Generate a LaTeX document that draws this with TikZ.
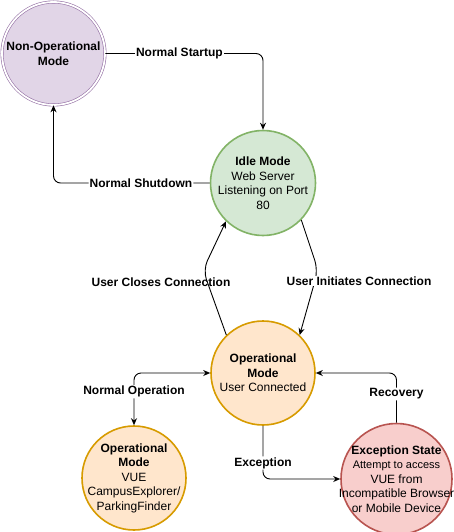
\documentclass[tikz,border=0pt]{standalone}
\usepackage{fontspec}
\setmainfont{Liberation Sans}
\usetikzlibrary{arrows.meta}
\definecolor{purfill}{HTML}{E1D5E7}\definecolor{purline}{HTML}{9673A6}
\definecolor{grnfill}{HTML}{D5E8D4}\definecolor{grnline}{HTML}{82B366}
\definecolor{orgfill}{HTML}{FFE6CC}\definecolor{orgline}{HTML}{D79B00}
\definecolor{redfill}{HTML}{F8CECC}\definecolor{redline}{HTML}{B85450}
\begin{document}
\begin{tikzpicture}[x=1pt,y=-1pt,
  state/.style={circle,line width=1.6pt,inner sep=0pt},
  txt/.style={align=center,inner sep=0pt,font=\fontsize{12}{14.5}\selectfont},
  conn/.style={line width=0.9pt,-{Stealth[length=7pt,width=6pt]},rounded corners=7pt},
  lbl/.style={font=\bfseries\fontsize{12}{14}\selectfont,inner sep=1pt},
  lblw/.style={lbl,fill=white}]
\useasboundingbox (0,0) rectangle (454,532);
\node[circle,draw=purline,line width=0.6pt,double=white,double distance=1.8pt,fill=purfill,minimum size=103pt,inner sep=0pt] (nonop) at (53.5,53.5) {};
\node[txt,font=\bfseries\fontsize{12}{14.5}\selectfont] (nonopt) at (nonop) {Non-Operational\\Mode};
\node[state,draw=grnline,fill=grnfill,minimum size=105pt] (idle) at (263,183) {};
\node[txt] (idlet) at (idle) {\textbf{Idle Mode}\\Web Server\\Listening on Port\\80};
\node[state,draw=orgline,fill=orgfill,minimum size=104pt] (op) at (263,373) {};
\node[txt] (opt) at (op) {\textbf{Operational}\\\textbf{Mode}\\User Connected};
\node[state,draw=orgline,fill=orgfill,minimum size=104pt] (op2) at (134,478) {};
\node[txt] (op2t) at (op2) {\textbf{Operational}\\\textbf{Mode}\\VUE\\CampusExplorer/\\ParkingFinder};
\node[state,draw=redline,fill=redfill,minimum size=111pt] (exc) at (396.5,479) {};
\node[txt] (exct) at (exc) {\textbf{Exception State}\\{\fontsize{11}{14.5}\selectfont Attempt to access}\\VUE from\\Incompatible Browser\\or Mobile Device};
\coordinate (c1) at (203,270);
\coordinate (c2) at (318,270);
\draw[conn] (nonop.east) -| node[lblw,pos=0.235] {Normal Startup} (idle.north);
\draw[conn] (idle.west) -| node[lblw,pos=0.22] {Normal Shutdown} (nonop.south);
\draw[conn,rounded corners=10pt] (op.134) -- (c1) -- (idle.226);
\node[lbl] (l1) at (161,282) {User Closes Connection};
\draw[conn,rounded corners=10pt] (idle.-44) -- (c2) -- (op.46);
\node[lblw] (l2) at (359,281) {User Initiates Connection};
\draw[conn,{Stealth[length=7pt,width=6pt]}-{Stealth[length=7pt,width=6pt]}] (op.west) -| node[lblw,pos=0.68] {Normal Operation} (op2.north);
\draw[conn] (op.south) |- node[lblw,pos=0.35] {Exception} (exc.west);
\draw[conn] (exc.north) |- node[lblw,pos=0.29] {Recovery} (op.east);
\end{tikzpicture}
\end{document}
